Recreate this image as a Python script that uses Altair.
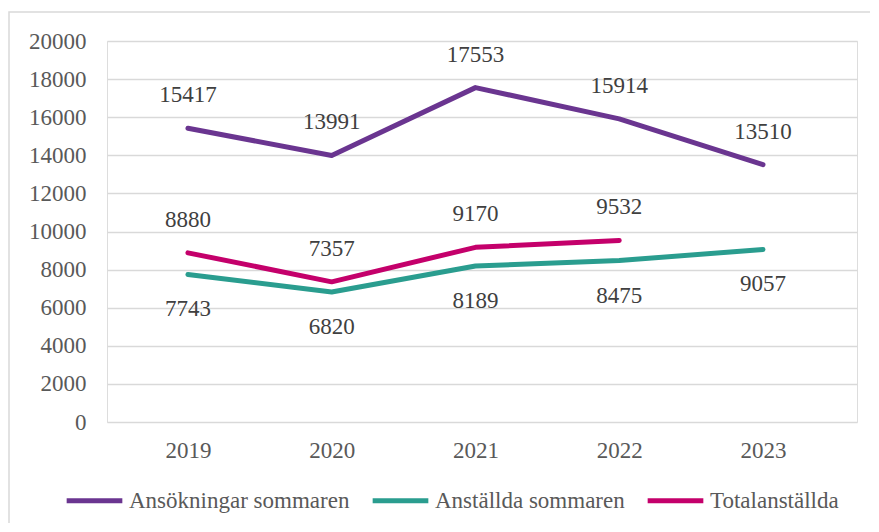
import altair as alt
import pandas as pd

years = [2019, 2020, 2021, 2022, 2023]
ansokningar = [15417, 13991, 17553, 15914, 13510]
anstallda = [7743, 6820, 8189, 8475, 9057]
total_years = [2019, 2020, 2021, 2022]
totalanstallda = [8880, 7357, 9170, 9532]

series_names = ["Ansökningar sommaren", "Anställda sommaren", "Totalanställda"]
series_colors = ["#6A3590", "#2A9D8F", "#C4006B"]

rows = []
for y, v in zip(years, ansokningar):
    rows.append({"year": y, "value": v, "series": series_names[0]})
for y, v in zip(years, anstallda):
    rows.append({"year": y, "value": v, "series": series_names[1]})
for y, v in zip(total_years, totalanstallda):
    rows.append({"year": y, "value": v, "series": series_names[2]})
df = pd.DataFrame(rows)

FONT = "Times New Roman, Liberation Serif, serif"

x_enc = alt.X("year:Q", title=None,
              scale=alt.Scale(domain=[2018.437, 2023.654], nice=False, zero=False),
              axis=alt.Axis(values=years, format="d", ticks=False, domain=False, grid=False,
                            labelFlush=False,
                            labelFontSize=23, labelColor="#595959", labelFont=FONT,
                            labelPadding=17))
y_enc = alt.Y("value:Q", title=None,
              scale=alt.Scale(domain=[0, 20000], nice=False),
              axis=alt.Axis(values=list(range(0, 20001, 2000)), ticks=False, domain=False,
                            format="d", labelOverlap=False,
                            gridColor="#d9d9d9", gridWidth=1.5,
                            labelFontSize=23, labelColor="#595959", labelFont=FONT,
                            labelPadding=21))

base = alt.Chart(df)

lines = base.mark_line(strokeWidth=5, strokeCap="round", strokeJoin="round").encode(
    x=x_enc, y=y_enc,
    color=alt.Color("series:N", sort=series_names,
                    scale=alt.Scale(domain=series_names, range=series_colors),
                    legend=alt.Legend(title=None, orient="none", direction="horizontal",
                                      legendX=-43, legendY=429,
                                      symbolType="stroke", symbolStrokeWidth=5,
                                      symbolSize=3100, labelFontSize=23, labelFont=FONT,
                                      labelColor="#595959", columnPadding=12,
                                      labelOffset=4, labelLimit=400)),
    detail="series:N",
)

above = base.transform_filter(
    alt.FieldOneOfPredicate(field="series", oneOf=[series_names[0], series_names[2]])
).mark_text(dy=-33, fontSize=23, font=FONT, color="#404040").encode(
    x=x_enc, y=y_enc, text="value:Q")

below = base.transform_filter(
    alt.FieldEqualPredicate(field="series", equal=series_names[1])
).mark_text(dy=35, fontSize=23, font=FONT, color="#404040").encode(
    x=x_enc, y=y_enc, text="value:Q")

border = alt.Chart(alt.Data(values=[{}])).mark_rect(
    filled=False, stroke="#d9d9d9", strokeWidth=1.5
).encode(x=alt.value(-98), x2=alt.value(770), y=alt.value(-29), y2=alt.value(489))

chart = alt.layer(lines, above, below, border).properties(
    width=750, height=381,
    autosize=alt.AutoSizeParams(type="none"),
    padding={"left": 99, "top": 33, "right": 13, "bottom": 101},
).configure_view(stroke=None).configure(background="white", font=FONT)

chart.save("out.html", embed_options={"renderer": "svg", "actions": False})
